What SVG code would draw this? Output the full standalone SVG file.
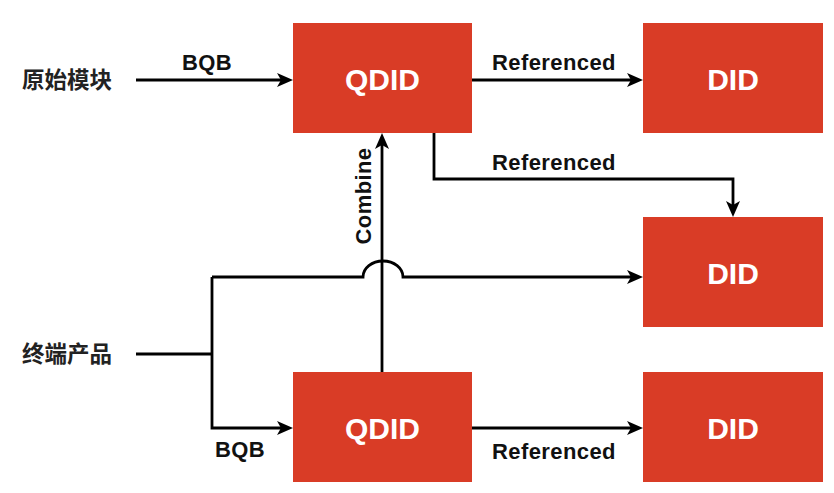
<svg xmlns="http://www.w3.org/2000/svg" width="834" height="493" viewBox="0 0 834 493">
<style>
.box{fill:#D93C26}
.bt{font-family:"Liberation Sans",Arial,sans-serif;font-weight:bold;font-size:30px;fill:#fff;text-anchor:middle}
.lb{font-family:"Liberation Sans",Arial,sans-serif;font-weight:bold;font-size:22px;letter-spacing:0.4px;fill:#111;text-anchor:middle}
.cn{font-family:"Noto Sans CJK SC",sans-serif;font-weight:bold;font-size:22.5px;fill:#222}
.ln{fill:none;stroke:#000;stroke-width:2.8}
</style>
<defs>
<marker id="ah" markerUnits="userSpaceOnUse" markerWidth="16" markerHeight="14" refX="8" refY="7" orient="auto" viewBox="0 0 16 14">
<path d="M0,0 L16,7 L0,14 L4,7 z" fill="#000"/>
</marker>
</defs>
<g id="src1"><text class="cn" x="22" y="88">原始模块</text></g>
<g id="src2"><text class="cn" x="22" y="362">终端产品</text></g>
<g id="qdid1"><rect class="box" x="293" y="23" width="179" height="110"/><text class="bt" x="382.5" y="90">QDID</text></g>
<g id="did1"><rect class="box" x="643" y="23" width="180" height="110"/><text class="bt" x="733" y="90">DID</text></g>
<g id="did2"><rect class="box" x="643" y="217" width="180" height="110"/><text class="bt" x="733" y="284">DID</text></g>
<g id="qdid2"><rect class="box" x="293" y="372" width="179" height="110"/><text class="bt" x="382.5" y="439">QDID</text></g>
<g id="did3"><rect class="box" x="643" y="372" width="180" height="110"/><text class="bt" x="733" y="439">DID</text></g>
<g id="connectors">
<path class="ln" d="M136,80 H285" marker-end="url(#ah)"/>
<path class="ln" d="M472,80 H635" marker-end="url(#ah)"/>
<path class="ln" d="M434,133 V179 H733 V209" marker-end="url(#ah)"/>
<path class="ln" d="M136,354 H212"/>
<path class="ln" d="M212,277 V428 H285" marker-end="url(#ah)"/>
<path class="ln" d="M212,277 H363 A20,16 0 0 1 403,277 H635" marker-end="url(#ah)"/>
<path class="ln" d="M382,372 V141" marker-end="url(#ah)"/>
<path class="ln" d="M472,428 H635" marker-end="url(#ah)"/>
<text class="lb" x="207" y="70">BQB</text>
<text class="lb" x="554" y="70">Referenced</text>
<text class="lb" x="554" y="170">Referenced</text>
<text class="lb" x="240" y="457">BQB</text>
<text class="lb" x="554" y="459">Referenced</text>
<text class="lb" transform="translate(371,196) rotate(-90)" x="0" y="0">Combine</text>
</g>
</svg>
